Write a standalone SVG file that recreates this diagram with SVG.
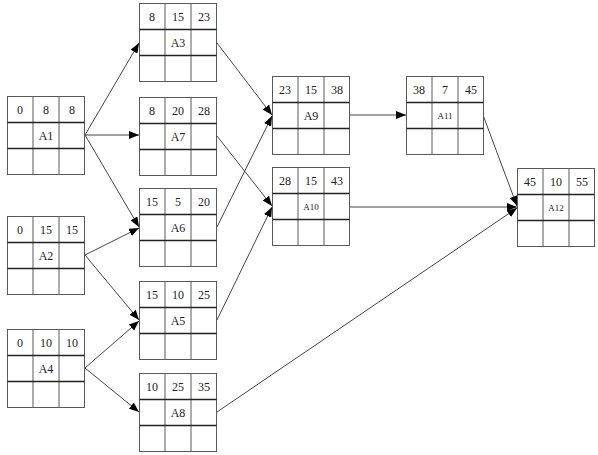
<svg xmlns="http://www.w3.org/2000/svg" xmlns:xlink="http://www.w3.org/1999/xlink" width="598" height="455" viewBox="0 0 598 455">
<style>
.bg{fill:#fff}
.ob{fill:#fff;stroke:#5a5a5a;stroke-width:1}
.vl{stroke:#5a5a5a;stroke-width:1}
.hl{stroke:#222;stroke-width:1.6}
.t{font-family:"Liberation Serif",serif;font-size:12px;fill:#222;text-anchor:middle}
.s{font-family:"Liberation Serif",serif;font-size:9px;fill:#222;text-anchor:middle}
.e{fill:none;stroke:#444;stroke-width:1;marker-end:url(#ah)}
</style>
<defs>
<marker id="ah" markerUnits="userSpaceOnUse" markerWidth="11" markerHeight="8" refX="10" refY="4" orient="auto">
<path d="M0,0 L10,4 L0,8 z" fill="#000"/>
</marker>
<g id="frame">
<rect class="ob" x="0.5" y="0.5" width="77" height="78"/>
<line class="vl" x1="26" y1="0.5" x2="26" y2="78.5"/>
<line class="vl" x1="52" y1="0.5" x2="52" y2="78.5"/>
<line class="hl" x1="0.5" y1="26.5" x2="77.5" y2="26.5"/>
<line class="hl" x1="0.5" y1="52.5" x2="77.5" y2="52.5"/>
</g>
</defs>
<rect class="bg" width="598" height="455"/>
<g id="connectors">
<line class="e" x1="85" y1="135" x2="139" y2="43"/>
<line class="e" x1="85" y1="135" x2="139" y2="135"/>
<line class="e" x1="85" y1="135" x2="139" y2="227"/>
<line class="e" x1="85" y1="255" x2="139" y2="228"/>
<line class="e" x1="85" y1="255" x2="139" y2="320"/>
<line class="e" x1="85" y1="368" x2="139" y2="321"/>
<line class="e" x1="85" y1="368" x2="139" y2="412"/>
<line class="e" x1="217" y1="43" x2="272" y2="115"/>
<line class="e" x1="217" y1="227" x2="272" y2="116"/>
<line class="e" x1="217" y1="136" x2="272" y2="206"/>
<line class="e" x1="217" y1="320" x2="272" y2="207"/>
<line class="e" x1="350" y1="115" x2="406" y2="115"/>
<line class="e" x1="483" y1="115" x2="517" y2="206"/>
<line class="e" x1="350" y1="207" x2="517" y2="207"/>
<line class="e" x1="217" y1="412" x2="517" y2="208"/>
</g>
<g id="A1" transform="translate(7,96)"><use xlink:href="#frame"/><text class="t" x="13" y="18">0</text><text class="t" x="39" y="18">8</text><text class="t" x="65" y="18">8</text><text class="t" x="39" y="44">A1</text></g>
<g id="A2" transform="translate(7,216)"><use xlink:href="#frame"/><text class="t" x="13" y="18">0</text><text class="t" x="39" y="18">15</text><text class="t" x="65" y="18">15</text><text class="t" x="39" y="44">A2</text></g>
<g id="A4" transform="translate(7,329)"><use xlink:href="#frame"/><text class="t" x="13" y="18">0</text><text class="t" x="39" y="18">10</text><text class="t" x="65" y="18">10</text><text class="t" x="39" y="44">A4</text></g>
<g id="A3" transform="translate(139,3)"><use xlink:href="#frame"/><text class="t" x="13" y="18">8</text><text class="t" x="39" y="18">15</text><text class="t" x="65" y="18">23</text><text class="t" x="39" y="44">A3</text></g>
<g id="A7" transform="translate(139,97)"><use xlink:href="#frame"/><text class="t" x="13" y="18">8</text><text class="t" x="39" y="18">20</text><text class="t" x="65" y="18">28</text><text class="t" x="39" y="44">A7</text></g>
<g id="A6" transform="translate(139,188)"><use xlink:href="#frame"/><text class="t" x="13" y="18">15</text><text class="t" x="39" y="18">5</text><text class="t" x="65" y="18">20</text><text class="t" x="39" y="44">A6</text></g>
<g id="A5" transform="translate(139,281)"><use xlink:href="#frame"/><text class="t" x="13" y="18">15</text><text class="t" x="39" y="18">10</text><text class="t" x="65" y="18">25</text><text class="t" x="39" y="44">A5</text></g>
<g id="A8" transform="translate(139,373)"><use xlink:href="#frame"/><text class="t" x="13" y="18">10</text><text class="t" x="39" y="18">25</text><text class="t" x="65" y="18">35</text><text class="t" x="39" y="44">A8</text></g>
<g id="A9" transform="translate(272,76)"><use xlink:href="#frame"/><text class="t" x="13" y="18">23</text><text class="t" x="39" y="18">15</text><text class="t" x="65" y="18">38</text><text class="t" x="39" y="44">A9</text></g>
<g id="A10" transform="translate(272,167)"><use xlink:href="#frame"/><text class="t" x="13" y="18">28</text><text class="t" x="39" y="18">15</text><text class="t" x="65" y="18">43</text><text class="s" x="39" y="43">A10</text></g>
<g id="A11" transform="translate(406,76)"><use xlink:href="#frame"/><text class="t" x="13" y="18">38</text><text class="t" x="39" y="18">7</text><text class="t" x="65" y="18">45</text><text class="s" x="39" y="43">A11</text></g>
<g id="A12" transform="translate(517,168)"><use xlink:href="#frame"/><text class="t" x="13" y="18">45</text><text class="t" x="39" y="18">10</text><text class="t" x="65" y="18">55</text><text class="s" x="39" y="43">A12</text></g>
</svg>
